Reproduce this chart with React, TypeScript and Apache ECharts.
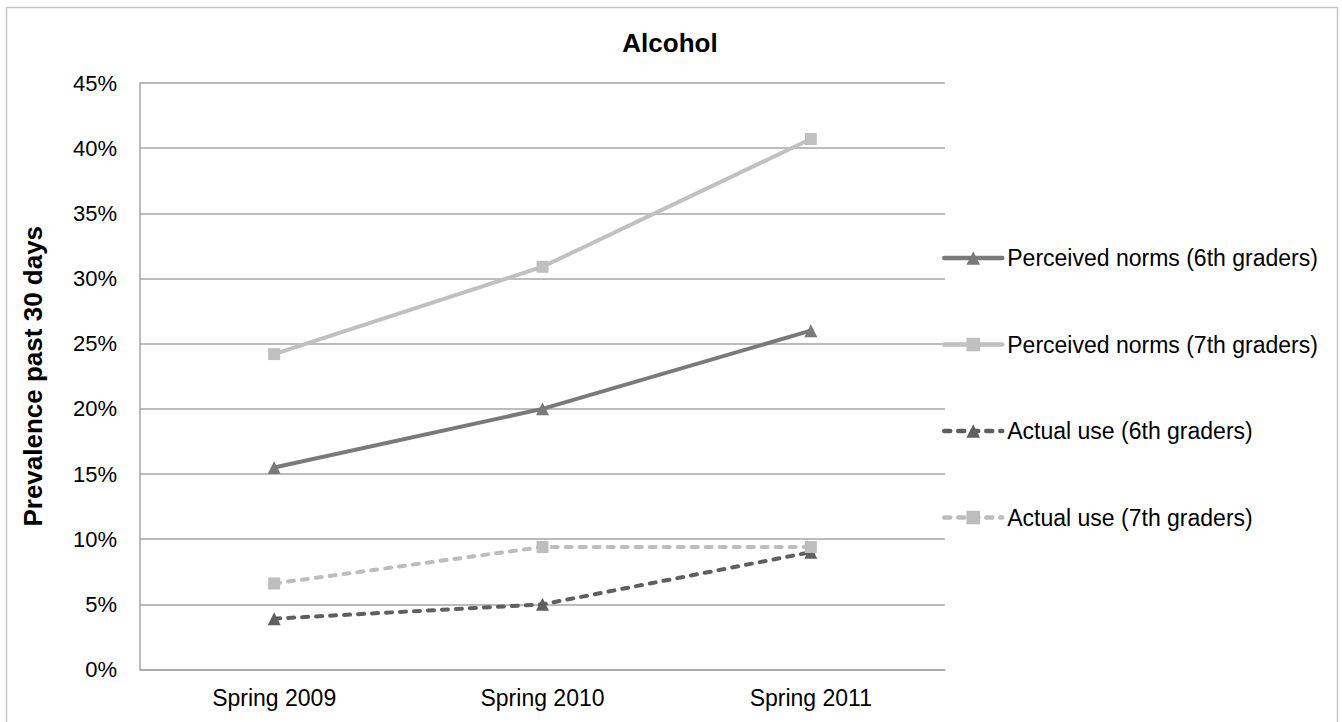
import React, { useEffect, useRef } from "react";
import * as echarts from "echarts";

const categories = ["Spring 2009", "Spring 2010", "Spring 2011"];
const perceived6th = [15.5, 20.0, 26.0];
const perceived7th = [24.2, 30.9, 40.7];
const actual6th = [3.9, 5.0, 9.0];
const actual7th = [6.6, 9.4, 9.4];
const seriesNames = [
  "Perceived norms (6th graders)",
  "Perceived norms (7th graders)",
  "Actual use (6th graders)",
  "Actual use (7th graders)",
];

const FONT = "'Liberation Sans', Arial, sans-serif";

export default function App() {
  const ref = useRef<HTMLDivElement>(null);

  useEffect(() => {
    if (!ref.current) return;
    const chart = echarts.init(ref.current, undefined, { renderer: "svg" });

    const mk = (
      name: string,
      data: number[],
      color: string,
      symbol: string,
      dashed: boolean,
      symbolSize: number
    ) => ({
      name,
      type: "line",
      data,
      symbol,
      symbolSize,
      showAllSymbol: true,
      itemStyle: { color },
      lineStyle: {
        color,
        width: 4,
        type: dashed ? [6, 8] : "solid",
        cap: "round",
      },
      emphasis: { disabled: true },
      z: dashed ? 3 : 2,
    });

    chart.setOption({
      animation: false,
      backgroundColor: "#ffffff",
      textStyle: { fontFamily: FONT },
      title: {
        text: "Alcohol",
        left: 665,
        top: 25,
        textAlign: "center",
        textStyle: { fontFamily: FONT, fontSize: 26, fontWeight: "bold", color: "#000" },
      },
      graphic: [
        {
          type: "rect",
          shape: { x: 6.5, y: 7.5, width: 1331, height: 730 },
          style: { fill: "none", stroke: "#c8c8c8", lineWidth: 1.5 },
          silent: true,
        },
      ],
      grid: { left: 140, top: 83, right: 397, bottom: 52.5, containLabel: false },
      legend: {
        orient: "vertical",
        left: 937,
        top: 240,
        padding: 5,
        itemWidth: 58,
        itemHeight: 17,
        itemGap: 60.5,
        selectedMode: false,
        lineStyle: { width: 4.5 },
        textStyle: { fontFamily: FONT, fontSize: 23, color: "#000", lineHeight: 26 },
        data: seriesNames,
      },
      xAxis: {
        type: "category",
        data: categories,
        boundaryGap: true,
        axisLine: { show: true, lineStyle: { color: "#a6a6a6", width: 1.5 } },
        axisTick: { show: false },
        axisLabel: { fontFamily: FONT, fontSize: 23, color: "#000", margin: 17 },
        splitLine: { show: false },
      },
      yAxis: {
        type: "value",
        min: 0,
        max: 45,
        interval: 5,
        name: "Prevalence past 30 days",
        nameLocation: "middle",
        nameGap: 94,
        nameTextStyle: { fontFamily: FONT, fontSize: 26, fontWeight: "bold", color: "#000" },
        axisLine: { show: true, lineStyle: { color: "#a6a6a6", width: 1.5 } },
        axisTick: { show: false },
        axisLabel: { fontFamily: FONT, fontSize: 22, color: "#000", margin: 23, formatter: "{value}%" },
        splitLine: { show: true, lineStyle: { color: "#a6a6a6", width: 1.5 } },
      },
      series: [
        mk(seriesNames[0], perceived6th, "#7a7a7a", "triangle", false, 13),
        mk(seriesNames[1], perceived7th, "#c0c0c0", "rect", false, 12),
        mk(seriesNames[2], actual6th, "#5f5f5f", "triangle", true, 13),
        mk(seriesNames[3], actual7th, "#bdbdbd", "rect", true, 12),
      ],
    });

    return () => chart.dispose();
  }, []);

  return (
    <div
      ref={ref}
      style={{ position: "fixed", left: 0, top: 0, width: 1342, height: 722, background: "#fff" }}
    />
  );
}
